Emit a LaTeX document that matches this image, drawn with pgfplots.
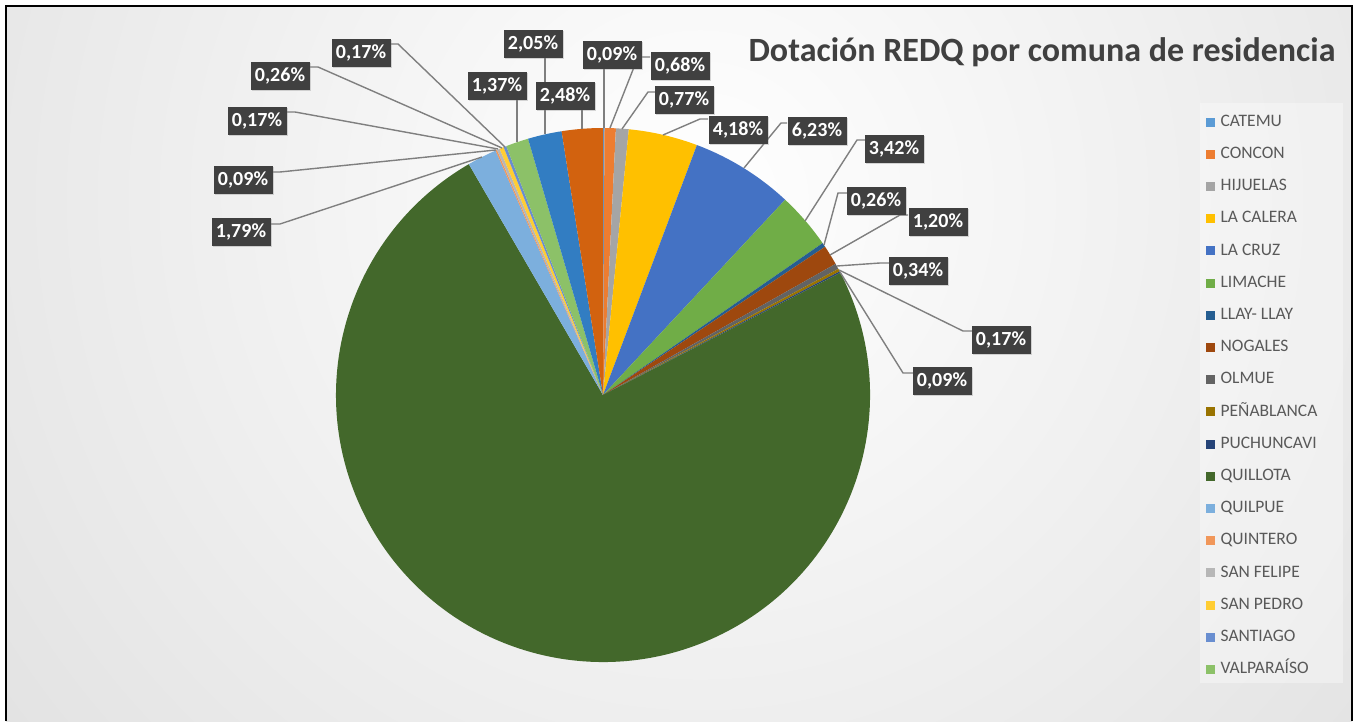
\documentclass[border=0pt]{standalone}
\usepackage{pgfplots}
\pgfplotsset{compat=1.18}
\usepackage{pgfplotstable}
\usetikzlibrary{shadows}
\usepackage{fontspec}
\setmainfont{Carlito}

\definecolor{c0}{HTML}{5B9BD5}
\definecolor{c1}{HTML}{ED7D31}
\definecolor{c2}{HTML}{A5A5A5}
\definecolor{c3}{HTML}{FFC000}
\definecolor{c4}{HTML}{4472C4}
\definecolor{c5}{HTML}{70AD47}
\definecolor{c6}{HTML}{255E91}
\definecolor{c7}{HTML}{9E480E}
\definecolor{c8}{HTML}{636363}
\definecolor{c9}{HTML}{997300}
\definecolor{c10}{HTML}{264478}
\definecolor{c11}{HTML}{43682B}
\definecolor{c12}{HTML}{7CAFDD}
\definecolor{c13}{HTML}{F1975A}
\definecolor{c14}{HTML}{B7B7B7}
\definecolor{c15}{HTML}{FFCD33}
\definecolor{c16}{HTML}{698ED0}
\definecolor{c17}{HTML}{8CC168}
\definecolor{c18}{HTML}{327DC2}
\definecolor{c19}{HTML}{D2620F}
\definecolor{lbl}{HTML}{404040}
\definecolor{leg}{HTML}{595959}
\definecolor{bgout}{HTML}{C8C8C8}
\definecolor{lead}{HTML}{7F7F7F}

% share of each comuna (%), clockwise from 12 o'clock
\pgfplotstableread{
name v
CATEMU 0.09
CONCON 0.68
HIJUELAS 0.77
{LA CALERA} 4.18
{LA CRUZ} 6.23
LIMACHE 3.42
{LLAY-LLAY} 0.26
NOGALES 1.20
OLMUE 0.34
PEÑABLANCA 0.17
PUCHUNCAVI 0.09
QUILLOTA 74.19
QUILPUE 1.79
QUINTERO 0.09
{SAN FELIPE} 0.17
{SAN PEDRO} 0.26
SANTIAGO 0.17
VALPARAÍSO 1.37
S19 2.05
S20 2.48
}\piedata

% data label positions
\pgfplotstableread{
x y lab
612 666 0,09
680 655 0,68
684 621 0,77
738 591 4,18
817 590 6,23
894 572 3,42
876 520 0,26
938 499 1,20
918 450 0,34
1001 381 0,17
942 340 0,09
241 489 1,79
243 541 0,09
257 600 0,17
280 645 0,26
361 668 0,17
497 635 1,37
533 677 2,05
565 625 2,48
}\labdata

\begin{document}
\begin{tikzpicture}
\useasboundingbox (0,0) rectangle (1357pt,721pt);
\fill[white] (0,0) rectangle (1357pt,721pt);
\begin{scope}
\clip (6pt,0pt) rectangle (1352pt,715pt);
\fill[bgout] (6pt,0pt) rectangle (1352pt,715pt);
\shade[inner color=white, outer color=bgout] (700pt,521pt) circle (1700pt);
\end{scope}
\draw[line width=2.2pt] (6pt,0pt) -- (6pt,715pt) -- (1352pt,715pt) -- (1352pt,0pt);
\fill[white, opacity=0.35] (1200pt,38pt) rectangle (1343pt,618pt);

\gdef\cum{0}
\pgfplotstablegetrowsof{\piedata}
\pgfmathtruncatemacro\N{\pgfplotsretval-1}
\foreach \i in {0,...,\N}{%
  \pgfplotstablegetelem{\i}{v}\of\piedata
  \pgfmathsetmacro\s{90-3.6*\cum}%
  \pgfmathsetmacro\nc{\cum+\pgfplotsretval}%
  \pgfmathsetmacro\e{90-3.6*\nc}%
  \expandafter\xdef\csname sa\i\endcsname{\s}%
  \expandafter\xdef\csname ea\i\endcsname{\e}%
  \xdef\cum{\nc}%
}

\begin{axis}[
  scale only axis, width=1357pt, height=721pt,
  xmin=0, xmax=1357, ymin=0, ymax=721,
  hide axis, clip=false,
  legend cell align=left,
  legend image code/.code={\fill[#1] (0pt,-4pt) rectangle (8pt,4pt);},
  legend style={at={(axis cs:1206,607)}, anchor=north west,
    draw=none, fill=none, inner sep=0pt,
    font=\fontsize{17.5pt}{20pt}\selectfont, text=leg,
    nodes={inner sep=0pt, text height=12pt, text depth=3pt},
    row sep=17.2pt, column sep=6pt},
]
\addlegendimage{c0}\addlegendentry{CATEMU}
\addlegendimage{c1}\addlegendentry{CONCON}
\addlegendimage{c2}\addlegendentry{HIJUELAS}
\addlegendimage{c3}\addlegendentry{LA CALERA}
\addlegendimage{c4}\addlegendentry{LA CRUZ}
\addlegendimage{c5}\addlegendentry{LIMACHE}
\addlegendimage{c6}\addlegendentry{LLAY- LLAY}
\addlegendimage{c7}\addlegendentry{NOGALES}
\addlegendimage{c8}\addlegendentry{OLMUE}
\addlegendimage{c9}\addlegendentry{PEÑABLANCA}
\addlegendimage{c10}\addlegendentry{PUCHUNCAVI}
\addlegendimage{c11}\addlegendentry{QUILLOTA}
\addlegendimage{c12}\addlegendentry{QUILPUE}
\addlegendimage{c13}\addlegendentry{QUINTERO}
\addlegendimage{c14}\addlegendentry{SAN FELIPE}
\addlegendimage{c15}\addlegendentry{SAN PEDRO}
\addlegendimage{c16}\addlegendentry{SANTIAGO}
\addlegendimage{c17}\addlegendentry{VALPARAÍSO}

\pgfplotsinvokeforeach{0,...,19}{%
  \fill[c#1] (axis cs:603,326) -- ++(\csname sa#1\endcsname:267pt)
     arc[start angle=\csname sa#1\endcsname, end angle=\csname ea#1\endcsname, radius=267pt] -- cycle;
}

\pgfplotsset{every axis plot/.append style={forget plot}}
\addplot[lead, line width=1.4pt] coordinates {(604,593) (604,652)};
\addplot[lead, line width=1.4pt] coordinates {(610,593) (638,664) (650,664)};
\addplot[lead, line width=1.4pt] coordinates {(622,592) (648,629) (655,629)};
\addplot[lead, line width=1.4pt] coordinates {(663,586) (700,602) (708,602)};
\addplot[lead, line width=1.4pt] coordinates {(744,553) (781,598) (787,598)};
\addplot[lead, line width=1.4pt] coordinates {(805,500) (857,581) (865,581)};
\addplot[lead, line width=1.4pt] coordinates {(824,476) (838,528) (847,528)};
\addplot[lead, line width=1.4pt] coordinates {(830,466) (900,506) (908,506)};
\addplot[lead, line width=1.4pt] coordinates {(837,455) (880,458) (890,458)};
\addplot[lead, line width=1.4pt] coordinates {(839,451) (963,390) (972,390)};
\addplot[lead, line width=1.4pt] coordinates {(840,449) (903,348) (913,348)};
\addplot[lead, line width=1.4pt] coordinates {(482,564) (280,497) (271,497)};
\addplot[lead, line width=1.4pt] coordinates {(496,571) (280,549) (272,549)};
\addplot[lead, line width=1.4pt] coordinates {(498,572) (295,609) (287,609)};
\addplot[lead, line width=1.4pt] coordinates {(502,573) (318,654) (309,654)};
\addplot[lead, line width=1.4pt] coordinates {(505,574) (398,677) (391,677)};
\addplot[lead, line width=1.4pt] coordinates {(517,579) (517,622)};
\addplot[lead, line width=1.4pt] coordinates {(545,587) (545,663)};
\addplot[lead, line width=1.4pt] coordinates {(582,592) (582,611)};

\addplot[draw=none, mark=none, point meta=explicit symbolic,
  nodes near coords={\pgfplotspointmeta\%},
  every node near coord/.style={anchor=center, fill=lbl, text=white,
    font=\fontsize{20pt}{23pt}\selectfont\bfseries,
    minimum width=59pt, minimum height=28pt, inner sep=0pt,
    drop shadow={shadow xshift=1.5pt, shadow yshift=-1.5pt, opacity=0.3}}]
  table[x=x, y=y, meta=lab] {\labdata};

\node[anchor=base, font=\fontsize{34pt}{40pt}\selectfont\bfseries, text=lbl]
  at (axis cs:1042,659) {Dotación REDQ por comuna de residencia};
\end{axis}
\end{tikzpicture}
\end{document}
